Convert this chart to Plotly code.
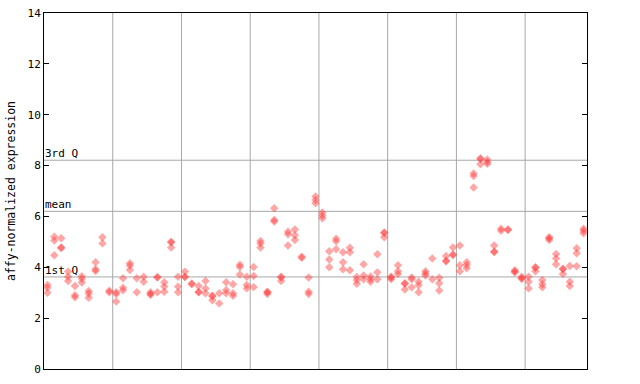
import plotly.graph_objects as go

# replicate values per sample column (left to right)
sample_values = [
    [3.3, 3.2, 3.0], [5.2, 5.05, 4.47], [5.14, 4.78, 4.76], [3.83, 3.63, 3.46],
    [3.26, 2.9, 2.82], [3.65, 3.55, 3.4], [3.07, 2.97, 2.8], [4.2, 3.92, 3.85],
    [5.18, 4.94], [3.08, 3.02], [3.02, 2.95, 2.65], [3.57, 3.2, 3.1],
    [4.16, 4.07, 3.89], [3.57, 3.02], [3.63, 3.43], [3.02, 2.95, 2.92],
    [3.62, 3.6, 3.02], [3.41, 3.24, 3.04], [5.0, 4.98, 4.78], [3.63, 3.24, 3.02],
    [3.83, 3.63, 3.62], [3.36, 3.33], [3.26, 3.03, 3.02], [3.46, 3.17, 2.98],
    [2.88, 2.86, 2.7], [2.98, 2.58], [3.41, 3.11, 2.98], [3.33, 2.98, 2.88],
    [4.1, 4.01, 3.72], [3.63, 3.3, 3.17], [4.01, 3.66, 3.22], [5.03, 4.94, 4.78],
    [3.04, 3.02, 2.95], [6.32, 5.86, 5.8], [3.63, 3.6, 3.46], [5.4, 5.3, 4.86],
    [5.49, 5.26, 5.07], [4.42, 4.37], [3.6, 3.04, 2.95], [6.78, 6.65, 6.52],
    [6.15, 6.04, 5.93], [4.63, 4.31, 4.0], [5.12, 5.02, 4.71], [4.59, 4.2, 3.92],
    [4.77, 4.59, 3.88], [3.62, 3.5, 3.35], [4.12, 3.68, 3.53], [3.64, 3.53, 3.43],
    [4.51, 3.8, 3.53], [5.37, 5.35, 5.18], [3.63, 3.6, 3.53], [4.08, 3.84, 3.74],
    [3.37, 3.35, 3.13], [3.6, 3.53, 3.21], [3.43, 3.29, 3.02], [3.84, 3.76, 3.68],
    [4.35, 3.53], [3.59, 3.37, 3.09], [4.44, 4.26, 4.24], [4.78, 4.5, 4.48],
    [4.86, 4.08, 3.84], [4.2, 4.09, 3.96], [7.69, 7.59, 7.14], [8.28, 8.26, 8.05],
    [8.24, 8.14, 8.07], [4.86, 4.62, 4.6], [5.52, 5.44], [5.49, 5.47],
    [3.88, 3.83, 3.8], [3.63, 3.57, 3.55], [3.63, 3.43, 3.17], [4.0, 3.98, 3.84],
    [3.5, 3.33, 3.21], [5.18, 5.14, 5.07], [4.52, 4.35, 4.12], [3.94, 3.92, 3.74],
    [4.05, 3.43, 3.26], [4.75, 4.55, 4.04], [5.52, 5.44, 5.34],
]

ref_lines = {"1st Q": 3.62, "mean": 6.2, "3rd Q": 8.21}
y_ticks = [0, 2, 4, 6, 8, 10, 12, 14]
group_bounds = [10.5, 20.5, 30.5, 40.5, 50.5, 60.5, 70.5]

xs, ys = [], []
for i, vals in enumerate(sample_values, start=1):
    for v in vals:
        xs.append(i)
        ys.append(v)

fig = go.Figure()
fig.add_trace(go.Scatter(
    x=xs, y=ys, mode="markers",
    marker=dict(symbol="diamond", size=6.5, color="rgba(255,60,60,0.45)",
                line=dict(width=0)),
    hoverinfo="y", showlegend=False,
))

shapes = []
for gx in group_bounds:
    shapes.append(dict(type="line", xref="x", yref="paper", x0=gx, x1=gx, y0=0, y1=1,
                       line=dict(color="#a8a8a8", width=1), layer="below"))
annotations = []
for name, val in ref_lines.items():
    shapes.append(dict(type="line", xref="paper", yref="y", x0=0, x1=1, y0=val, y1=val,
                       line=dict(color="#a8a8a8", width=1), layer="below"))
    annotations.append(dict(x=0, xref="paper", y=val, yref="y", text=name, showarrow=False,
                            xanchor="left", yanchor="bottom", xshift=-1, yshift=-2,
                            font=dict(family="DejaVu Sans Mono", size=11, color="black")))

fig.update_layout(
    width=640, height=384,
    margin=dict(l=44, r=53, t=13, b=15),
    paper_bgcolor="white", plot_bgcolor="white",
    shapes=shapes, annotations=annotations,
    font=dict(family="DejaVu Sans Mono", size=11, color="black"),
    xaxis=dict(range=[0.5, 79.5], showgrid=False, zeroline=False, showticklabels=False,
               ticks="", showline=True, linecolor="black", linewidth=1, mirror=True,
               automargin=False),
    yaxis=dict(range=[0, 14], tickvals=y_ticks, showgrid=False, zeroline=False,
               ticks="inside", ticklen=5, tickcolor="black", showline=True,
               linecolor="black", linewidth=1, mirror="ticks", automargin=False,
               title=dict(text="affy-normalized expression", standoff=9,
                          font=dict(family="DejaVu Sans Mono", size=11.5))),
)

fig.write_html("out.html")
